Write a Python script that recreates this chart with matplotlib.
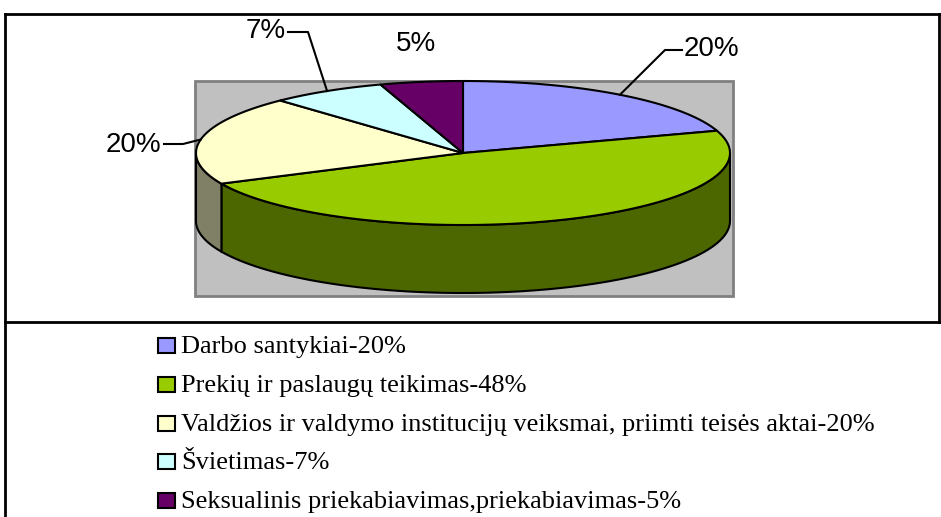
import numpy as np
import matplotlib.pyplot as plt
from matplotlib.patches import Polygon, Rectangle

# data
categories = ['Darbo santykiai',
              'Prekių ir paslaugų teikimas',
              'Valdžios ir valdymo institucijų veiksmai, priimti teisės aktai',
              'Švietimas',
              'Seksualinis priekabiavimas,priekabiavimas']
values = [20, 48, 20, 7, 5]
pie_labels = ['20%', None, '20%', '7%', '5%']
top_colors = ['#9999FF', '#99CC00', '#FFFFCC', '#CCFFFF', '#660066']
side_colors = ['#4C4C80', '#4C6600', '#808066', '#668080', '#330033']

# pie geometry in pixels (y goes down)
cx, cy = 463, 153
rx, ry = 267, 72
depth = 68


def pt(t, dy=0):
    return cx + rx * np.cos(t), cy - ry * np.sin(t) + dy


fig = plt.figure(figsize=(9.41, 5.17), dpi=100)
ax = fig.add_axes([0, 0, 1, 1])
ax.set_xlim(0, 941)
ax.set_ylim(517, 0)
ax.axis('off')

# frame lines
ax.plot([5, 5], [14, 517], color='black', lw=2)
ax.plot([5, 941], [14, 14], color='black', lw=2)
ax.plot([939, 939], [14, 322], color='black', lw=2)
ax.plot([5, 941], [322, 322], color='black', lw=2)

# gray plot area
ax.add_patch(Rectangle((195, 81), 538, 215, facecolor='#C0C0C0',
                       edgecolor='#808080', lw=2))

# slice angles (clockwise from 12 o'clock)
fracs = np.array(values) / sum(values)
cum = np.concatenate([[0], np.cumsum(fracs)])
starts = np.pi / 2 - 2 * np.pi * cum[:-1]
ends = np.pi / 2 - 2 * np.pi * cum[1:]

# side faces (front half only: angles between -pi and 0)
for a1, a2, col in zip(starts, ends, side_colors):
    for shift in (0, -2 * np.pi, 2 * np.pi):
        l, h = a2 + shift, a1 + shift
        s_lo, s_hi = max(l, -np.pi), min(h, 0)
        if s_hi > s_lo:
            t = np.linspace(s_hi, s_lo, 80)
            top = [pt(v) for v in t]
            bot = [pt(v, depth) for v in t[::-1]]
            ax.add_patch(Polygon(top + bot, closed=True, facecolor=col,
                                 edgecolor='black', lw=1.5))

# top faces
for a1, a2, col in zip(starts, ends, top_colors):
    t = np.linspace(a1, a2, 120)
    poly = [(cx, cy)] + [pt(v) for v in t]
    ax.add_patch(Polygon(poly, closed=True, facecolor=col,
                         edgecolor='black', lw=1.5, joinstyle='round'))

# percentage labels with leader lines
lab_font = dict(family='Liberation Sans', fontsize=20)
mids = (starts + ends) / 2
# right 20%
x0, y0 = pt(mids[0])
ax.plot([x0, 665, 682], [y0, 50, 50], color='black', lw=1.5)
ax.text(684, 49, pie_labels[0], ha='left', va='center', **lab_font)
# left 20%
x0, y0 = pt(mids[2])
ax.plot([x0, 183, 164], [y0, 144, 144], color='black', lw=1.5)
ax.text(161, 145, pie_labels[2], ha='right', va='center', **lab_font)
# 7%
x0, y0 = pt(mids[3])
ax.plot([x0, 308, 288], [y0, 32, 32], color='black', lw=1.5)
ax.text(286, 31, pie_labels[3], ha='right', va='center', **lab_font)
# 5%
ax.text(416, 44, pie_labels[4], ha='center', va='center', **lab_font)

# legend
base_y = 353
for i, (name, v, col) in enumerate(zip(categories, values, top_colors)):
    y = base_y + i * 38.75
    ax.add_patch(Rectangle((158, y - 15), 17, 15, facecolor=col,
                           edgecolor='black', lw=1.5))
    ax.text(181, y, f'{name}-{v}%', ha='left', va='baseline',
            family='Liberation Serif', fontsize=19)

fig.savefig('out.png', dpi=100)
